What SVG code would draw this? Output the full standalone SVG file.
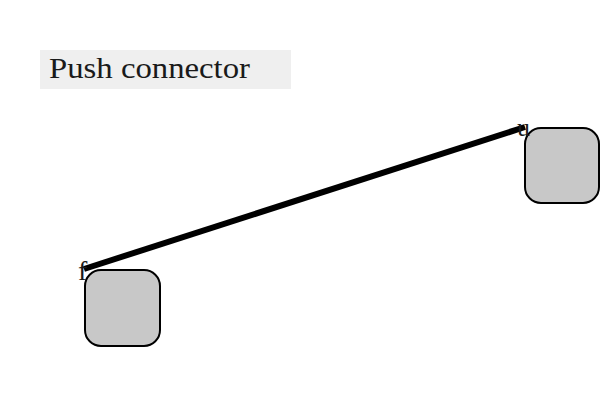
<svg xmlns="http://www.w3.org/2000/svg" width="600" height="400" viewBox="0 0 600 400">
<style>
.node{fill:#c8c8c8;stroke:#000;stroke-width:2}
.lbl{fill:#1a1a1a;font-family:'Liberation Serif','DejaVu Serif',serif}
.conn{stroke:#000;stroke-width:6;fill:none}
</style>
<rect width="600" height="400" fill="#fff"/>
<g id="title">
<rect x="40" y="50" width="251" height="39" fill="#efefef"/>
<text class="lbl" x="49" y="78" font-size="30" textLength="201" lengthAdjust="spacingAndGlyphs">Push connector</text>
</g>
<g id="connectors">
<line class="conn" x1="84" y1="269" x2="525" y2="127"/>
</g>
<g id="node-u">
<rect class="node" x="525" y="128" width="74" height="75" rx="16"/>
<text class="lbl" x="517" y="136" font-size="26">u</text>
</g>
<g id="node-f">
<rect class="node" x="85" y="270" width="75" height="76" rx="16"/>
<text class="lbl" x="78" y="280" font-size="28">f</text>
</g>
</svg>
